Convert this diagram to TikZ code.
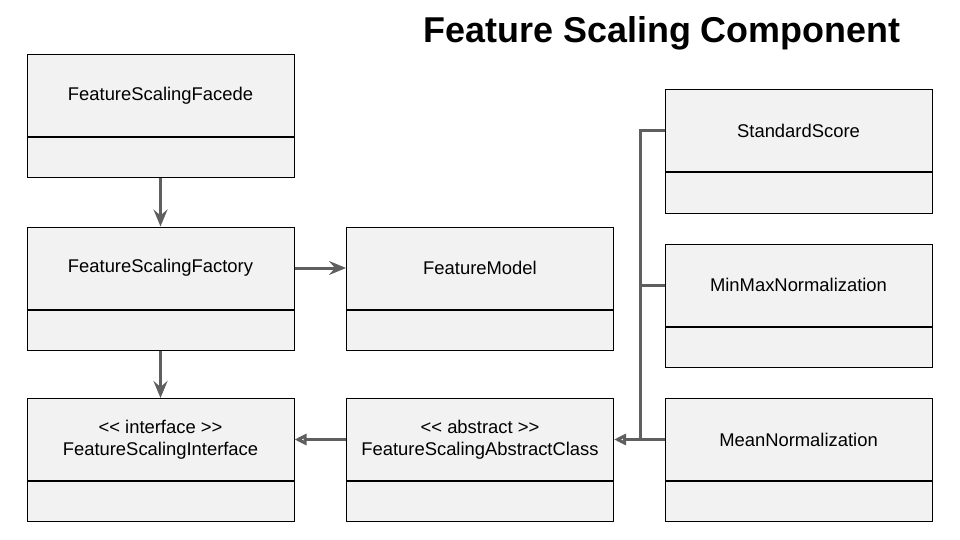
\documentclass[tikz,border=0pt]{standalone}
\usepackage{fontspec}
\setmainfont{Liberation Sans}
\usetikzlibrary{positioning,arrows.meta}

\definecolor{boxgray}{HTML}{F2F2F2}
\definecolor{linkgray}{HTML}{5F5F5F}

\newcommand{\stereo}[1]{{<}{<} #1 {>}{>}}

\tikzset{
    classname/.style={draw=black, fill=boxgray, line width=1pt, minimum width=267pt, minimum height=82pt, inner sep=0pt, align=center, font=\fontsize{18.4}{22.5}\selectfont},
    classbody/.style={draw=black, fill=boxgray, line width=1pt, minimum width=267pt, minimum height=40pt, inner sep=0pt},
    assoc/.style={draw=linkgray, line width=3pt, -{Stealth[length=17pt, width=14pt, inset=6pt]}},
    link/.style={draw=linkgray, line width=3pt},
    inherit/.style={draw=linkgray, line width=3pt, -{Triangle[open, length=12pt, width=11pt, fill=white]}},
}

\begin{document}
\begin{tikzpicture}[x=1pt, y=-1pt]
    \useasboundingbox (0,0) rectangle (960,540);

    \node[font=\fontsize{35.9}{40}\selectfont\bfseries] (title) at (662,33) {Feature Scaling Component};

    \node[classname] (facede) at (160.5,95.5) {FeatureScalingFacede};
    \node[classbody, below=0pt of facede] (facede-b) {};

    \node[classname] (factory) at (160.5,268) {FeatureScalingFactory};
    \node[classbody, below=0pt of factory] (factory-b) {};

    \node[classname] (model) at (480,268) {FeatureModel};
    \node[classbody, below=0pt of model] (model-b) {};

    \node[classname] (interface) at (160.5,439.5) {\stereo{interface}\\FeatureScalingInterface};
    \node[classbody, below=0pt of interface] (interface-b) {};

    \node[classname] (abstract) at (480,439.5) {\stereo{abstract}\\FeatureScalingAbstractClass};
    \node[classbody, below=0pt of abstract] (abstract-b) {};

    \node[classname] (standard) at (798.5,131) {StandardScore};
    \node[classbody, below=0pt of standard] (standard-b) {};

    \node[classname] (minmax) at (798.5,285) {MinMaxNormalization};
    \node[classbody, below=0pt of minmax] (minmax-b) {};

    \node[classname] (mean) at (798.5,439.5) {MeanNormalization};
    \node[classbody, below=0pt of mean] (mean-b) {};

    % associations
    \draw[assoc] (facede-b.south) -- (factory.north);
    \draw[assoc] (factory-b.south) -- (interface.north);
    \draw[assoc] (factory.east) -- (model.west);

    % inheritance
    \draw[inherit] (abstract.west) -- (interface.east);
    \coordinate (bus) at (640,439.5);
    \draw[link] (standard.west) -| (bus);
    \draw[link] (minmax.west) -- (minmax.west -| bus);
    \draw[inherit] (mean.west) -- (abstract.east);
\end{tikzpicture}
\end{document}
